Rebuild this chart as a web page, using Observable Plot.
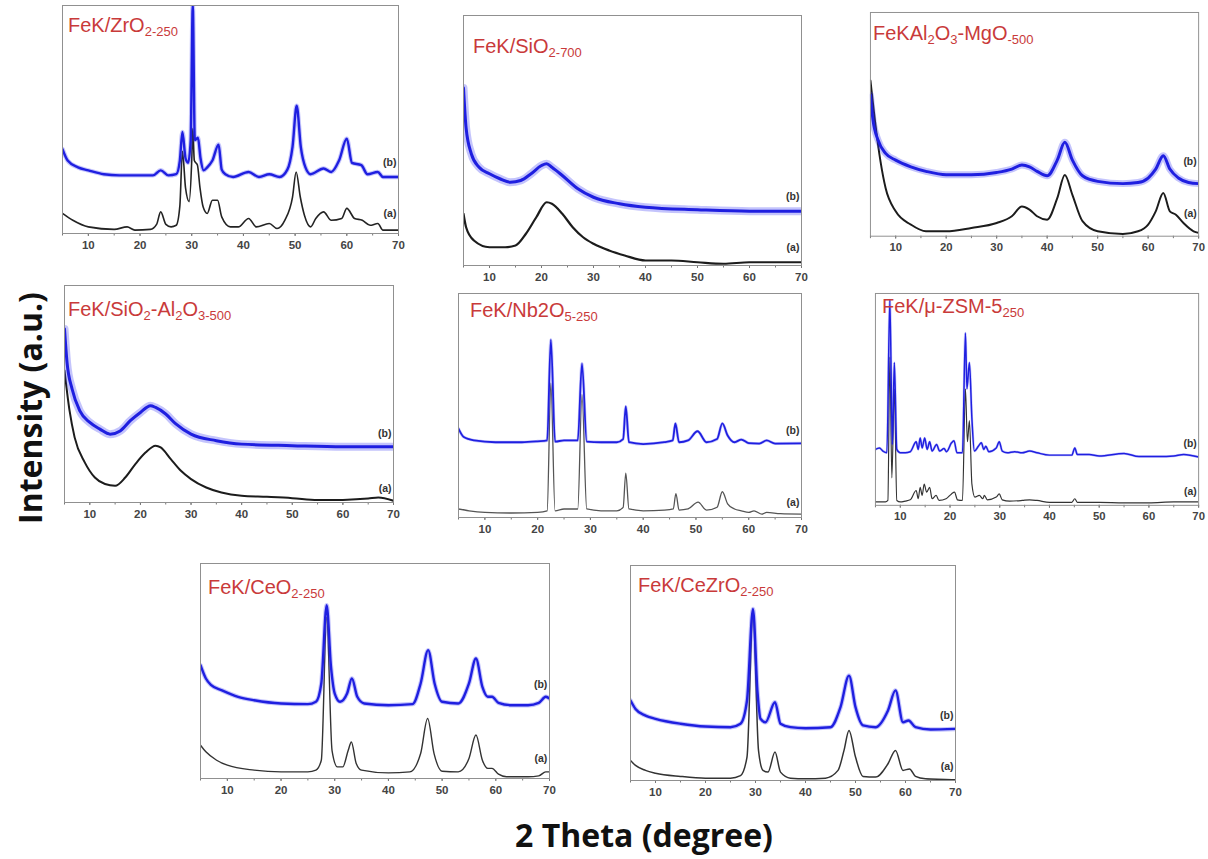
<!DOCTYPE html>
<html>
<head>
<meta charset="utf-8">
<script src="https://cdn.jsdelivr.net/npm/d3@7"></script>
<script src="https://cdn.jsdelivr.net/npm/@observablehq/plot@0.6"></script>
<style>
  body { margin: 0; background: #fff; font-family: "Liberation Sans", Arial, sans-serif; }
  #fig { position: relative; width: 1208px; height: 859px; overflow: hidden; background: #fff; }
  .panel { position: absolute; }
  .panel svg text { font-weight: bold; }
  .title { position: absolute; color: #c93a3a; font-size: 20px; line-height: 1; white-space: nowrap; }
  .title .s { font-size: 13px; position: relative; top: 4px; }
  .axtitle { position: absolute; font-family: "Open Sans", "Liberation Sans", sans-serif; font-weight: bold; color: #111; white-space: nowrap; }
</style>
</head>
<body>
<div id="fig"></div>
<script>
// 2θ range shared by every diffractogram
const thetaDomain = [5, 70];
const majorTicks = [10, 20, 30, 40, 50, 60, 70];
const minorTicks = [5, 10, 15, 20, 25, 30, 35, 40, 45, 50, 55, 60, 65, 70];

// Intensities in arbitrary units (0–100 of each panel), pairs of [2θ, I]
// (a) fresh catalyst, (b) second pattern offset above it

const zro2A = [[5,8.8],[7,5.8],[10,2.9],[15,1.8],[17.5,2.9],[19,1.5],[22,1.8],[23.2,4],[24,9.5],[25,4],[26,2.9],[27,3.6],[27.7,12],[28.2,36],[28.8,20],[29.5,14],[30,32],[30.2,46],[30.5,32],[31.1,30],[31.6,20],[32.2,11.7],[33,8.8],[34,14.6],[35,14.6],[35.8,7.3],[37.5,2.9],[39,2.9],[41,6.6],[42.5,2.9],[45,4.4],[46.5,2.2],[48,5.8],[49.5,16],[50.2,27],[51,16],[51.8,8],[53,2.9],[54,6.6],[55.5,9.5],[57,5.8],[59,6.6],[60,11],[61.5,6.6],[63,5.8],[64.5,3.6],[66,4.4],[67,1.5],[70,1.5]];
const zro2B = [[5,37],[6,32],[8,29],[10,27.7],[13,26],[16,25.5],[20,25.5],[22.5,25.5],[24,27.7],[25.5,25.5],[27,26],[27.7,32],[28.2,44.5],[28.8,33],[29.3,31],[29.8,41],[30.2,100],[30.6,41],[31.2,42],[31.7,33],[32.3,27.7],[33,29],[34,32],[35.2,39],[35.8,28],[36.5,26],[38,24.8],[41,27],[43,24.8],[45,26],[47,24.8],[48.5,28],[49.5,38],[50.3,56],[51.1,38],[52,29],[53,26],[55.5,28.5],[57,27],[58.5,32],[60,41.6],[61,31],[62.8,30],[64,26],[66,27],[67,24.8],[70,24.8]];

const sio2A = [[5,20.7],[5.5,15.3],[7,10],[10,7.3],[13,7.3],[15,8],[17,12.7],[19,19.3],[21,25.3],[22,24.7],[24,20.7],[26,15.3],[28,11.3],[30,8.7],[33,6],[36,4],[40,2],[45,2],[50,1.3],[55,0.7],[60,1.3],[65,1.3],[70,1.3]];
const sio2B = [[5,71],[5.5,55],[6.5,44.7],[8,39.3],[10,36.7],[12,34.7],[14,33.3],[16,34],[18,36.7],[20,40],[21,40.7],[22,39.3],[24,36],[27,30.7],[30,27.3],[35,24.7],[40,23.3],[50,22.3],[60,21.7],[70,21.7]];

const mgoA = [[5,69.6],[6,49.6],[7,33.3],[8,21.5],[10,11.1],[13,5.2],[16,2.2],[20,2.2],[25,3.7],[30,5.9],[33,8.9],[35,13.3],[36.5,11.9],[38,8.9],[40,7.4],[42,17],[43.5,27.4],[45,18.5],[47,6.7],[50,2.2],[55,1],[58,2.2],[60,5.2],[61.5,11.1],[63,19.3],[64.3,11.1],[65.5,9.6],[67,5.9],[69,2.2],[70,1.5]];
const mgoB = [[5,63],[5.5,52],[6.5,43],[8,37],[10,34],[13,31],[16,29],[20,27.5],[25,27.5],[30,28.5],[33,30],[35,31.8],[36.5,31],[38,29],[40,27],[42,34],[43.5,42],[45,34],[47,27],[50,24.5],[55,23.5],[58,24],[60,26],[61.5,30],[63,36],[64.3,30],[66,26],[68,24],[70,23.5]];

const sialA = [[5,60.8],[6,42.3],[7,30],[9,18.5],[11,11.5],[13,8.5],[15,7.7],[17,11.5],[19,17.7],[21,23],[23,26.2],[24,25.4],[26,20],[28,14.6],[30,10.8],[33,6.9],[36,4.6],[40,3.1],[45,2.6],[50,2],[55,1.1],[60,1.2],[65,1.8],[67,2.3],[70,0.8]];
const sialB = [[5,80],[5.5,64.6],[6.5,52.3],[8,42.3],[10,36.9],[12,33.8],[14,31.5],[16,33],[18,37.7],[20,41.5],[22,44.6],[23,43.8],[25,40.8],[27,36.2],[30,31.5],[35,28.5],[40,26.9],[50,26.2],[60,25.7],[70,25.7]];

const nb2o5A = [[5,3.8],[7,3],[10,2.3],[15,2],[20,2.3],[21.8,3],[22.5,60],[23.3,3],[25,3.8],[27.6,3.8],[28.4,55],[29.3,3.8],[32,3],[35,3],[36.2,4.5],[36.7,19.8],[37.3,3.8],[40,3],[44,3.3],[45.7,3.8],[46.2,10.7],[46.8,3.3],[48.5,3.8],[50.4,6.9],[52,3.3],[54,4.6],[55,11.5],[56,6.1],[57.3,3.8],[58.6,3],[60,2.3],[61,3],[62.5,1.5],[63.4,2.3],[66,1.7],[70,1.5]];
const nb2o5B = [[5,39.7],[6,35.9],[8,34.4],[12,33.6],[17,33.6],[20,34],[21.8,34.4],[22.5,79.4],[23.3,33.9],[25,34.4],[27.6,34.4],[28.4,68.7],[29.3,33.9],[32,33.6],[35,33.6],[36.2,35],[36.7,49.6],[37.3,33.6],[40,32.8],[44,33.6],[45.6,34.4],[46.1,42],[46.8,33.6],[48.5,34.4],[50.3,38.5],[52,33.6],[54,35],[55,42],[56,36.6],[57.3,33.6],[58.6,34.8],[60,33.2],[62,33],[63.4,34.4],[65,33],[70,33.1]];

const zsm5A = [[5,1.6],[7,1.6],[7.5,2.3],[7.9,70],[8.3,13],[8.8,55],[9.3,2.3],[10,1.6],[11,2],[12,2.6],[13.2,7],[13.6,3.1],[14,8.5],[14.4,4.7],[14.8,10],[15.3,6.2],[15.9,8.5],[16.4,3.1],[17.2,4.7],[17.8,2.3],[19.2,3.1],[20.3,5.4],[20.9,6.2],[21.5,2.6],[22.5,2.3],[23.1,55],[23.5,30],[23.9,40],[24.4,10],[25,3.9],[25.9,4.7],[26.6,3.1],[26.9,4.7],[27.5,2.6],[29.3,3.9],[29.9,5.4],[30.5,2.6],[32,2],[34.5,2.3],[36,2.6],[37.5,2.3],[40,1.4],[44.5,1.4],[45.1,3.1],[45.6,1.4],[50,1.4],[55,1.2],[60,1.2],[65,1.6],[70,1.6]];
const zsm5B = [[5,26.4],[5.8,27.1],[6.5,25.6],[7.3,24.8],[7.9,96.9],[8.4,28.7],[8.8,67.4],[9.3,26.4],[10,24.8],[11,24.8],[12,25.3],[13.2,30],[13.6,26.4],[14,31.8],[14.4,27.1],[14.9,31.8],[15.4,26.4],[15.9,30],[16.4,25.6],[17.3,28.7],[17.9,25.6],[18.8,26.8],[19.3,25.3],[20.3,29.5],[20.8,30.5],[21.4,24.8],[22.5,24.8],[23.1,81.4],[23.4,55],[23.9,67.4],[24.4,41],[24.9,25.6],[25.7,27.9],[26.3,29.5],[26.8,26.4],[27.2,27.9],[27.8,25.3],[29.3,27.1],[29.9,30],[30.5,25.6],[31.5,24.8],[33,25.3],[34.5,24.8],[36,25.6],[37.5,24.8],[40,23.7],[44.5,23.7],[45.1,27.1],[45.6,24],[48,24],[50,23.3],[55,24.5],[58,23],[62,23],[65,23.3],[67,24],[70,22.8]];

const ceo2A = [[5,15.5],[6,12.4],[8,8.5],[10,6.2],[15,3.9],[20,3.1],[25,3.1],[26.5,3.9],[27.5,8.5],[28.5,75],[29.5,13],[30.5,5.4],[31.5,5.4],[32.5,13],[33.1,17],[34,7],[35,3.9],[40,2.6],[44,3.1],[46,11.6],[47.3,27.9],[48.5,11.6],[50,3.4],[53,3.1],[55,9.3],[56.3,20.2],[57.5,8.5],[58.5,4.7],[59.3,4.7],[60.5,2],[62,0.8],[66,0.8],[68,1.2],[69.3,3.1],[70,3.1]];
const ceo2B = [[5,52.7],[6,46.5],[7,43.4],[9,41],[12,38],[15,36.4],[20,34.9],[25,34.6],[26.5,35.7],[27.5,44.2],[28.5,80.6],[29.3,52],[30,39.5],[31,35.7],[32.3,39.5],[33.2,46.5],[34.2,38],[35.5,34.9],[40,34.1],[44.5,34.6],[46,44.2],[47.4,59.7],[48.6,44.2],[50,35.7],[53,34.9],[55,44.2],[56.3,55.8],[57.5,42.6],[58.5,38],[59.3,38],[60.5,35.2],[63,34.1],[66,34.1],[68,35.2],[69.3,38],[70,37.2]];

const cezrA = [[5,9.3],[6,7],[8,4.7],[10,3.4],[15,1.9],[20,1.1],[25,1.1],[27,2.3],[28.3,10.9],[29.5,78],[30.6,14],[31.5,4.7],[32.5,3.9],[33.9,13.2],[35,3.9],[37,1.1],[40,0.8],[44,1.1],[46.5,4.7],[47.7,14],[48.7,23.3],[50,10.9],[51.5,1.9],[54,1.6],[56.5,7.8],[58,14],[59.5,4.7],[60.8,5.4],[62,1.9],[64,0.8],[68,0.5],[70,0.3]];
const cezrB = [[5,37.2],[6,33.3],[8,30.2],[10,28.7],[15,26.4],[20,25.1],[25,24.8],[27,26.4],[28.3,37.2],[29.5,79.8],[30.4,41.1],[31,28.7],[32,27.1],[33.9,36.4],[35,26.4],[37,24.8],[40,24.3],[45,24.8],[47,34.1],[48.7,48.8],[50,34.1],[51.5,25.6],[54,24.8],[56.5,32.6],[58,41.9],[59.5,27.1],[60.6,27.9],[62,24.8],[65,23.7],[70,24]];

// Panel layout: frame edges in page pixels, trace colours/widths and label heights
const panels = [
  {a: zro2A, b: zro2B, left: 62, right: 398, top: 5, bottom: 233, wa: 1.6, wb: 2.4, band: 4.5, ca: "#232323", la: 5.8, lb: 28.5,
   title: 'FeK/ZrO<span class="s">2-250</span>', tx: 68, ty: 15},
  {a: sio2A, b: sio2B, left: 463, right: 801, top: 15, bottom: 265, wa: 2.2, wb: 3, band: 8, ca: "#1c1c1c", la: 4.5, lb: 25,
   title: 'FeK/SiO<span class="s">2-700</span>', tx: 473, ty: 36},
  {a: mgoA, b: mgoB, left: 870, right: 1203, top: 12, bottom: 239, wa: 2, wb: 3, band: 7, ca: "#1c1c1c", la: 7.4, lb: 30.4,
   title: 'FeKAl<span class="s">2</span>O<span class="s">3</span>-MgO<span class="s">-500</span>', tx: 873, ty: 23},
  {a: sialA, b: sialB, left: 64, right: 393, top: 285, bottom: 502, wa: 2, wb: 3, band: 8, ca: "#1c1c1c", la: 3.5, lb: 29,
   title: 'FeK/SiO<span class="s">2</span>-Al<span class="s">2</span>O<span class="s">3-500</span>', tx: 68, ty: 299},
  {a: nb2o5A, b: nb2o5B, left: 458, right: 801, top: 293, bottom: 517, wa: 1.3, wb: 1.8, band: 3, ca: "#555", la: 3.8, lb: 36,
   title: 'FeK/Nb2O<span class="s">5-250</span>', tx: 470, ty: 300},
  {a: zsm5A, b: zsm5B, left: 875, right: 1203, top: 293, bottom: 508, wa: 1.2, wb: 1.5, band: 2.5, ca: "#333", la: 3.5, lb: 26,
   title: 'FeK/μ-ZSM-5<span class="s">250</span>', tx: 882, ty: 296},
  {a: ceo2A, b: ceo2B, left: 200, right: 549, top: 563, bottom: 778, wa: 1.4, wb: 2.4, band: 4.5, ca: "#333", la: 6.5, lb: 40.5,
   title: 'FeK/CeO<span class="s">2-250</span>', tx: 208, ty: 577},
  {a: cezrA, b: cezrB, left: 630, right: 955, top: 565, bottom: 780, wa: 1.5, wb: 2.4, band: 4.5, ca: "#333", la: 3.5, lb: 27,
   title: 'FeK/CeZrO<span class="s">2-250</span>', tx: 638, ty: 575}
];

const fig = document.getElementById("fig");
const mL = 4, mR = 10, mT = 1, mB = 24;

for (const p of panels) {
  const labels = [{t: "(b)", y: p.lb}, {t: "(a)", y: p.la}];
  const chart = Plot.plot({
    width: p.right - p.left + mL + mR,
    height: p.bottom - p.top + mT + mB,
    marginLeft: mL, marginRight: mR, marginTop: mT, marginBottom: mB,
    x: {domain: thetaDomain},
    y: {domain: [0, 100], axis: null},
    style: {fontFamily: "'Liberation Sans', Arial, sans-serif", background: "transparent", overflow: "visible"},
    marks: [
      Plot.axisX({ticks: minorTicks, tickSize: 2.5, tickFormat: () => "", label: null, stroke: "#777"}),
      Plot.axisX({ticks: majorTicks, tickSize: 3, tickPadding: 4, fontSize: 11.5, fill: "#444", stroke: "#777", label: null}),
      Plot.line(p.a, {x: d => d[0], y: d => d[1], curve: "monotone-x", stroke: p.ca, strokeWidth: p.wa, clip: true}),
      Plot.line(p.b, {x: d => d[0], y: d => d[1], curve: "monotone-x", stroke: "#3a3af5", strokeOpacity: 0.3, strokeWidth: p.band, clip: true}),
      Plot.line(p.b, {x: d => d[0], y: d => d[1], curve: "monotone-x", stroke: "#1f1fe0", strokeWidth: p.wb, clip: true}),
      Plot.text(labels, {x: 69.6, y: "y", text: "t", textAnchor: "end", lineAnchor: "bottom", dy: -3, fontSize: 10.5, fill: "#333"}),
      Plot.frame({stroke: "#909090"})
    ]
  });
  const box = document.createElement("div");
  box.className = "panel";
  box.style.left = (p.left - mL) + "px";
  box.style.top = (p.top - mT) + "px";
  box.appendChild(chart);
  fig.appendChild(box);

  const t = document.createElement("div");
  t.className = "title";
  t.style.left = p.tx + "px";
  t.style.top = p.ty + "px";
  t.innerHTML = p.title;
  fig.appendChild(t);
}

// Shared axis titles
const yt = document.createElement("div");
yt.className = "axtitle";
yt.textContent = "Intensity (a.u.)";
yt.style.fontSize = "32px";
yt.style.left = "29px";
yt.style.top = "408px";
yt.style.transform = "translate(-50%, -50%) rotate(-90deg)";
fig.appendChild(yt);

const xt = document.createElement("div");
xt.className = "axtitle";
xt.textContent = "2 Theta (degree)";
xt.style.fontSize = "32px";
xt.style.left = "644px";
xt.style.top = "834px";
xt.style.transform = "translate(-50%, -50%)";
fig.appendChild(xt);
</script>
</body>
</html>
